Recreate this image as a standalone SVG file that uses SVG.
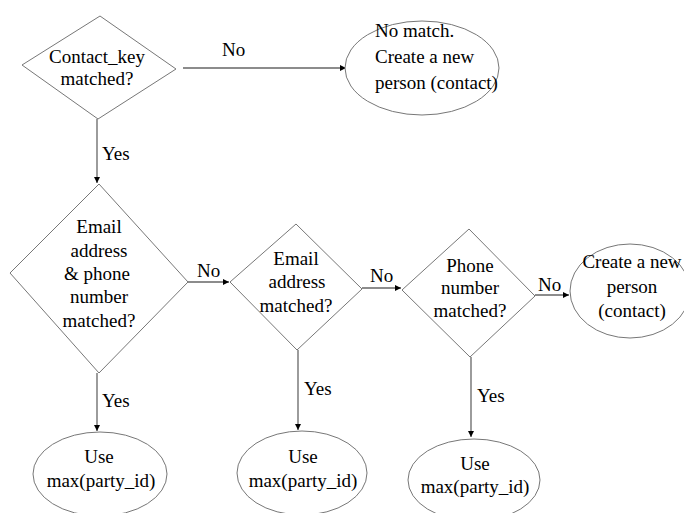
<svg xmlns="http://www.w3.org/2000/svg" width="684" height="513" viewBox="0 0 684 513" font-family="'Liberation Serif', 'DejaVu Serif', serif">
<style>
.shape{fill:#fff;stroke:#777;stroke-width:1}
text{font-family:'Liberation Serif','DejaVu Serif',serif;font-size:19px;fill:#000}
.m{text-anchor:middle}
.c{stroke:#666;stroke-width:1.3;fill:none;marker-end:url(#ah)}
</style>
<defs>
<marker id="ah" viewBox="0 0 8 8" refX="8" refY="4" markerWidth="6" markerHeight="6" markerUnits="userSpaceOnUse" orient="auto">
<path d="M0,0 L8,4 L0,8 z" fill="#000"/>
</marker>
</defs>
<rect width="684" height="513" fill="#fff"/>
<g id="connectors">
<line class="c" x1="183" y1="68" x2="346" y2="68"/>
<text x="222" y="56">No</text>
<line class="c" x1="97" y1="119" x2="97" y2="183"/>
<text x="102" y="160">Yes</text>
<line class="c" x1="188" y1="282" x2="229" y2="282"/>
<text x="197" y="277">No</text>
<line class="c" x1="362" y1="288" x2="401" y2="288"/>
<text x="370" y="282">No</text>
<line class="c" x1="535" y1="295" x2="569" y2="295"/>
<text x="538" y="291">No</text>
<line class="c" x1="97" y1="373" x2="97" y2="431"/>
<text x="102" y="407">Yes</text>
<line class="c" x1="298" y1="350" x2="298" y2="430"/>
<text x="304" y="395">Yes</text>
<line class="c" x1="471" y1="357" x2="471" y2="437"/>
<text x="477" y="402">Yes</text>
</g>
<g id="d1">
<polygon class="shape" points="100,16 176,69 98,119 22,65"/>
<text class="m" x="97" y="63">Contact_key</text>
<text class="m" x="97" y="85">matched?</text>
</g>
<g id="e1">
<ellipse class="shape" cx="422" cy="68" rx="77" ry="47"/>
<text x="375" y="37">No match.</text>
<text x="375" y="63">Create a new</text>
<text x="375" y="89">person (contact)</text>
</g>
<g id="d2">
<polygon class="shape" points="99,184 188,282 99,373 10,273"/>
<text class="m" x="99" y="233">Email</text>
<text class="m" x="99" y="257">address</text>
<text class="m" x="97" y="280">&amp; phone</text>
<text class="m" x="99" y="303">number</text>
<text class="m" x="99" y="327">matched?</text>
</g>
<g id="d3">
<polygon class="shape" points="296,224 362,289 297,350 230,282"/>
<text class="m" x="296" y="265">Email</text>
<text class="m" x="297" y="288">address</text>
<text class="m" x="296" y="312">matched?</text>
</g>
<g id="d4">
<polygon class="shape" points="469,229 535,296 470,357 402,290"/>
<text class="m" x="470" y="272">Phone</text>
<text class="m" x="470" y="294">number</text>
<text class="m" x="470" y="317">matched?</text>
</g>
<g id="e2">
<ellipse class="shape" cx="630" cy="291" rx="60" ry="47"/>
<text class="m" x="632" y="268">Create a new</text>
<text class="m" x="632" y="293">person</text>
<text class="m" x="632" y="317">(contact)</text>
</g>
<g id="e3">
<ellipse class="shape" cx="100" cy="474" rx="67" ry="42"/>
<text class="m" x="99" y="463">Use</text>
<text class="m" x="101" y="487">max(party_id)</text>
</g>
<g id="e4">
<ellipse class="shape" cx="302" cy="473" rx="65" ry="42"/>
<text class="m" x="303" y="463">Use</text>
<text class="m" x="303" y="487">max(party_id)</text>
</g>
<g id="e5">
<ellipse class="shape" cx="474" cy="480" rx="66" ry="41"/>
<text class="m" x="475" y="470">Use</text>
<text class="m" x="475" y="493">max(party_id)</text>
</g>
</svg>
